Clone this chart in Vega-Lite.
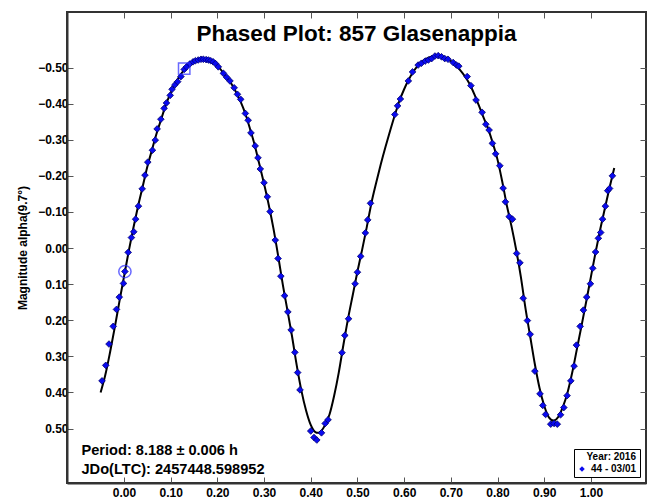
{
  "$schema": "https://vega.github.io/schema/vega-lite/v6.json",
  "autosize": "none",
  "width": 579,
  "height": 471,
  "padding": {"left": 67, "top": 12, "right": 5, "bottom": 19},
  "background": "white",
  "title": {
    "text": "Phased Plot: 857 Glasenappia",
    "font": "Liberation Sans",
    "fontSize": 22.5,
    "fontWeight": "bold",
    "color": "black",
    "anchor": "middle",
    "baseline": "alphabetic",
    "offset": -52
  },
  "config": {
    "view": {"stroke": "#333333", "strokeWidth": 2},
    "font": "Liberation Sans",
    "axis": {
      "labelFont": "Liberation Sans",
      "labelFontSize": 12,
      "labelFontWeight": "bold",
      "labelColor": "black",
      "titleFont": "Liberation Sans",
      "titleFontWeight": "bold",
      "titleColor": "black",
      "domainColor": "#333333",
      "domainWidth": 2,
      "tickColor": "#555555",
      "tickWidth": 1,
      "grid": false
    }
  },
  "datasets": {
    "fit": [
      {"phase": -0.05, "mag": 0.400}, {"phase": -0.04, "mag": 0.352}, {"phase": -0.03, "mag": 0.290},
      {"phase": -0.02, "mag": 0.222}, {"phase": -0.01, "mag": 0.150}, {"phase": 0.00, "mag": 0.080},
      {"phase": 0.01, "mag": 0.010}, {"phase": 0.02, "mag": -0.055}, {"phase": 0.03, "mag": -0.115},
      {"phase": 0.04, "mag": -0.170}, {"phase": 0.05, "mag": -0.225}, {"phase": 0.06, "mag": -0.272},
      {"phase": 0.07, "mag": -0.318}, {"phase": 0.08, "mag": -0.358}, {"phase": 0.09, "mag": -0.398},
      {"phase": 0.10, "mag": -0.430}, {"phase": 0.11, "mag": -0.457}, {"phase": 0.12, "mag": -0.478},
      {"phase": 0.13, "mag": -0.495}, {"phase": 0.14, "mag": -0.508}, {"phase": 0.15, "mag": -0.517},
      {"phase": 0.16, "mag": -0.522}, {"phase": 0.17, "mag": -0.524}, {"phase": 0.18, "mag": -0.523},
      {"phase": 0.19, "mag": -0.517}, {"phase": 0.20, "mag": -0.506}, {"phase": 0.21, "mag": -0.490},
      {"phase": 0.22, "mag": -0.472}, {"phase": 0.23, "mag": -0.455}, {"phase": 0.24, "mag": -0.432},
      {"phase": 0.25, "mag": -0.405}, {"phase": 0.26, "mag": -0.372}, {"phase": 0.27, "mag": -0.330},
      {"phase": 0.28, "mag": -0.285}, {"phase": 0.29, "mag": -0.232}, {"phase": 0.30, "mag": -0.178},
      {"phase": 0.31, "mag": -0.120}, {"phase": 0.32, "mag": -0.055}, {"phase": 0.33, "mag": 0.020},
      {"phase": 0.34, "mag": 0.100}, {"phase": 0.35, "mag": 0.172}, {"phase": 0.36, "mag": 0.245},
      {"phase": 0.37, "mag": 0.325}, {"phase": 0.38, "mag": 0.395}, {"phase": 0.39, "mag": 0.450},
      {"phase": 0.40, "mag": 0.490}, {"phase": 0.41, "mag": 0.510}, {"phase": 0.415, "mag": 0.512},
      {"phase": 0.42, "mag": 0.510}, {"phase": 0.43, "mag": 0.492}, {"phase": 0.44, "mag": 0.462},
      {"phase": 0.45, "mag": 0.410}, {"phase": 0.46, "mag": 0.345}, {"phase": 0.47, "mag": 0.268},
      {"phase": 0.48, "mag": 0.195}, {"phase": 0.49, "mag": 0.130}, {"phase": 0.50, "mag": 0.065},
      {"phase": 0.51, "mag": 0.005}, {"phase": 0.52, "mag": -0.058}, {"phase": 0.53, "mag": -0.125},
      {"phase": 0.54, "mag": -0.180}, {"phase": 0.55, "mag": -0.232}, {"phase": 0.56, "mag": -0.280},
      {"phase": 0.57, "mag": -0.325}, {"phase": 0.58, "mag": -0.368}, {"phase": 0.59, "mag": -0.408},
      {"phase": 0.60, "mag": -0.440}, {"phase": 0.61, "mag": -0.467}, {"phase": 0.62, "mag": -0.489},
      {"phase": 0.63, "mag": -0.506}, {"phase": 0.64, "mag": -0.518}, {"phase": 0.65, "mag": -0.526},
      {"phase": 0.66, "mag": -0.531}, {"phase": 0.67, "mag": -0.533}, {"phase": 0.68, "mag": -0.531},
      {"phase": 0.69, "mag": -0.526}, {"phase": 0.70, "mag": -0.518}, {"phase": 0.71, "mag": -0.507},
      {"phase": 0.72, "mag": -0.493}, {"phase": 0.73, "mag": -0.476}, {"phase": 0.74, "mag": -0.455},
      {"phase": 0.75, "mag": -0.427}, {"phase": 0.76, "mag": -0.395}, {"phase": 0.77, "mag": -0.362},
      {"phase": 0.78, "mag": -0.330}, {"phase": 0.79, "mag": -0.290}, {"phase": 0.80, "mag": -0.245},
      {"phase": 0.81, "mag": -0.185}, {"phase": 0.82, "mag": -0.118}, {"phase": 0.83, "mag": -0.060},
      {"phase": 0.84, "mag": 0.005}, {"phase": 0.85, "mag": 0.080}, {"phase": 0.86, "mag": 0.168},
      {"phase": 0.87, "mag": 0.245}, {"phase": 0.88, "mag": 0.322}, {"phase": 0.89, "mag": 0.388},
      {"phase": 0.90, "mag": 0.437}, {"phase": 0.91, "mag": 0.469}, {"phase": 0.92, "mag": 0.478},
      {"phase": 0.93, "mag": 0.468}, {"phase": 0.94, "mag": 0.440}, {"phase": 0.95, "mag": 0.400},
      {"phase": 0.96, "mag": 0.345}, {"phase": 0.97, "mag": 0.280}, {"phase": 0.98, "mag": 0.215},
      {"phase": 0.99, "mag": 0.148}, {"phase": 1.00, "mag": 0.080}, {"phase": 1.01, "mag": 0.012},
      {"phase": 1.02, "mag": -0.052}, {"phase": 1.03, "mag": -0.110}, {"phase": 1.04, "mag": -0.168},
      {"phase": 1.05, "mag": -0.222}
    ],
    "obs": [
      {"phase": -0.047, "mag": 0.368}, {"phase": -0.039, "mag": 0.325}, {"phase": -0.032, "mag": 0.266},
      {"phase": -0.023, "mag": 0.217}, {"phase": -0.016, "mag": 0.170}, {"phase": -0.010, "mag": 0.136},
      {"phase": -0.001, "mag": 0.098}, {"phase": 0.002, "mag": 0.065}, {"phase": 0.009, "mag": 0.012},
      {"phase": 0.016, "mag": -0.029}, {"phase": 0.021, "mag": -0.045}, {"phase": 0.025, "mag": -0.080},
      {"phase": 0.031, "mag": -0.116}, {"phase": 0.039, "mag": -0.164}, {"phase": 0.045, "mag": -0.202},
      {"phase": 0.051, "mag": -0.238}, {"phase": 0.061, "mag": -0.271}, {"phase": 0.067, "mag": -0.299},
      {"phase": 0.071, "mag": -0.330}, {"phase": 0.079, "mag": -0.357}, {"phase": 0.086, "mag": -0.387},
      {"phase": 0.091, "mag": -0.402}, {"phase": 0.099, "mag": -0.423}, {"phase": 0.103, "mag": -0.440},
      {"phase": 0.109, "mag": -0.452}, {"phase": 0.115, "mag": -0.461}, {"phase": 0.122, "mag": -0.475},
      {"phase": 0.129, "mag": -0.495}, {"phase": 0.134, "mag": -0.502}, {"phase": 0.141, "mag": -0.510},
      {"phase": 0.148, "mag": -0.516}, {"phase": 0.153, "mag": -0.519}, {"phase": 0.159, "mag": -0.521},
      {"phase": 0.165, "mag": -0.523}, {"phase": 0.170, "mag": -0.523}, {"phase": 0.176, "mag": -0.522},
      {"phase": 0.181, "mag": -0.521}, {"phase": 0.186, "mag": -0.519}, {"phase": 0.191, "mag": -0.516},
      {"phase": 0.196, "mag": -0.511}, {"phase": 0.202, "mag": -0.502}, {"phase": 0.213, "mag": -0.484},
      {"phase": 0.220, "mag": -0.473}, {"phase": 0.227, "mag": -0.463}, {"phase": 0.236, "mag": -0.444},
      {"phase": 0.243, "mag": -0.426}, {"phase": 0.250, "mag": -0.412}, {"phase": 0.260, "mag": -0.373},
      {"phase": 0.266, "mag": -0.354}, {"phase": 0.272, "mag": -0.319}, {"phase": 0.281, "mag": -0.283},
      {"phase": 0.287, "mag": -0.250}, {"phase": 0.292, "mag": -0.219}, {"phase": 0.300, "mag": -0.181},
      {"phase": 0.307, "mag": -0.142}, {"phase": 0.313, "mag": -0.101}, {"phase": 0.324, "mag": -0.022},
      {"phase": 0.330, "mag": 0.029}, {"phase": 0.336, "mag": 0.078}, {"phase": 0.344, "mag": 0.132},
      {"phase": 0.351, "mag": 0.177}, {"phase": 0.358, "mag": 0.227}, {"phase": 0.366, "mag": 0.289},
      {"phase": 0.372, "mag": 0.345}, {"phase": 0.377, "mag": 0.393}, {"phase": 0.400, "mag": 0.507},
      {"phase": 0.407, "mag": 0.525}, {"phase": 0.413, "mag": 0.532}, {"phase": 0.423, "mag": 0.512},
      {"phase": 0.431, "mag": 0.486}, {"phase": 0.437, "mag": 0.476}, {"phase": 0.467, "mag": 0.290},
      {"phase": 0.473, "mag": 0.242}, {"phase": 0.481, "mag": 0.196}, {"phase": 0.495, "mag": 0.099},
      {"phase": 0.500, "mag": 0.067}, {"phase": 0.507, "mag": 0.023}, {"phase": 0.517, "mag": -0.042},
      {"phase": 0.522, "mag": -0.078}, {"phase": 0.528, "mag": -0.124}, {"phase": 0.580, "mag": -0.370},
      {"phase": 0.586, "mag": -0.394}, {"phase": 0.592, "mag": -0.413}, {"phase": 0.609, "mag": -0.463},
      {"phase": 0.618, "mag": -0.488}, {"phase": 0.630, "mag": -0.507}, {"phase": 0.637, "mag": -0.512},
      {"phase": 0.645, "mag": -0.518}, {"phase": 0.652, "mag": -0.521}, {"phase": 0.659, "mag": -0.525},
      {"phase": 0.666, "mag": -0.532}, {"phase": 0.673, "mag": -0.533}, {"phase": 0.680, "mag": -0.530},
      {"phase": 0.687, "mag": -0.525}, {"phase": 0.694, "mag": -0.523}, {"phase": 0.705, "mag": -0.514},
      {"phase": 0.712, "mag": -0.507}, {"phase": 0.717, "mag": -0.504}, {"phase": 0.735, "mag": -0.475},
      {"phase": 0.743, "mag": -0.450}, {"phase": 0.754, "mag": -0.410}, {"phase": 0.767, "mag": -0.376},
      {"phase": 0.775, "mag": -0.343}, {"phase": 0.782, "mag": -0.327}, {"phase": 0.789, "mag": -0.290},
      {"phase": 0.796, "mag": -0.261}, {"phase": 0.805, "mag": -0.228}, {"phase": 0.812, "mag": -0.166},
      {"phase": 0.817, "mag": -0.128}, {"phase": 0.825, "mag": -0.087}, {"phase": 0.832, "mag": -0.080},
      {"phase": 0.841, "mag": 0.015}, {"phase": 0.848, "mag": 0.041}, {"phase": 0.855, "mag": 0.139},
      {"phase": 0.864, "mag": 0.201}, {"phase": 0.870, "mag": 0.239}, {"phase": 0.880, "mag": 0.341},
      {"phase": 0.891, "mag": 0.404}, {"phase": 0.897, "mag": 0.436}, {"phase": 0.903, "mag": 0.461},
      {"phase": 0.914, "mag": 0.488}, {"phase": 0.921, "mag": 0.486}, {"phase": 0.928, "mag": 0.488},
      {"phase": 0.935, "mag": 0.462}, {"phase": 0.942, "mag": 0.442}, {"phase": 0.949, "mag": 0.409},
      {"phase": 0.957, "mag": 0.368}, {"phase": 0.964, "mag": 0.327}, {"phase": 0.969, "mag": 0.269},
      {"phase": 0.977, "mag": 0.217}, {"phase": 0.984, "mag": 0.172}, {"phase": 0.991, "mag": 0.136},
      {"phase": 0.999, "mag": 0.099}, {"phase": 1.004, "mag": 0.056}, {"phase": 1.010, "mag": 0.011},
      {"phase": 1.016, "mag": -0.027}, {"phase": 1.021, "mag": -0.043}, {"phase": 1.025, "mag": -0.080},
      {"phase": 1.031, "mag": -0.116}, {"phase": 1.036, "mag": -0.159}, {"phase": 1.040, "mag": -0.165},
      {"phase": 1.046, "mag": -0.200}
    ],
    "epochs": [
      {"phase": 0.002, "mag": 0.065, "kind": "first"},
      {"phase": 0.129, "mag": -0.497, "kind": "last"}
    ],
    "notes": [
      {"phase": -0.091, "mag": 0.573, "text": "Period: 8.188 ± 0.006 h"},
      {"phase": -0.091, "mag": 0.626, "text": "JDo(LTC): 2457448.598952"}
    ]
  },
  "encoding": {
    "x": {
      "field": "phase",
      "type": "quantitative",
      "scale": {"domain": [-0.122, 1.118], "nice": false, "zero": false}
    },
    "y": {
      "field": "mag",
      "type": "quantitative",
      "scale": {"domain": [-0.654, 0.651], "nice": false, "zero": false, "reverse": true}
    }
  },
  "layer": [
    {
      "data": {"name": "fit"},
      "mark": {"type": "line", "color": "black", "strokeWidth": 2, "interpolate": "monotone"},
      "encoding": {
        "x": {
          "field": "phase",
          "type": "quantitative",
          "axis": {
            "orient": "bottom",
            "values": [0, 0.1, 0.2, 0.3, 0.4, 0.5, 0.6, 0.7, 0.8, 0.9, 1.0],
            "format": ".2f",
            "title": null,
            "tickSize": -6,
            "labelPadding": 10
          }
        },
        "y": {
          "field": "mag",
          "type": "quantitative",
          "axis": {
            "orient": "left",
            "values": [-0.5, -0.4, -0.3, -0.2, -0.1, 0, 0.1, 0.2, 0.3, 0.4, 0.5],
            "format": ".2f",
            "title": "Magnitude alpha(9.7°)",
            "titleFontSize": 12,
            "titlePadding": 8,
            "tickSize": -6,
            "labelPadding": 5
          }
        }
      }
    },
    {
      "data": {"name": "obs"},
      "mark": {"type": "point", "shape": "diamond", "filled": true, "size": 44, "opacity": 1, "stroke": "#000070", "strokeWidth": 0.8},
      "encoding": {
        "x": {
          "field": "phase",
          "type": "quantitative",
          "axis": {
            "orient": "top",
            "values": [0, 0.1, 0.2, 0.3, 0.4, 0.5, 0.6, 0.7, 0.8, 0.9, 1.0],
            "labels": false,
            "domain": false,
            "title": null,
            "tickSize": -6
          }
        },
        "y": {
          "field": "mag",
          "type": "quantitative",
          "axis": {
            "orient": "right",
            "values": [-0.5, -0.4, -0.3, -0.2, -0.1, 0, 0.1, 0.2, 0.3, 0.4, 0.5],
            "labels": false,
            "domain": false,
            "title": null,
            "tickSize": -6
          }
        },
        "color": {
          "datum": "44 - 03/01",
          "type": "nominal",
          "scale": {"range": ["#0a0af0"]},
          "legend": {
            "title": "Year: 2016",
            "orient": "bottom-right",
            "offset": 6,
            "padding": 3,
            "strokeColor": "black",
            "fillColor": "white",
            "titleFont": "Liberation Sans",
            "titleFontSize": 10,
            "titleFontWeight": "bold",
            "titleColor": "black",
            "titleAnchor": "end",
            "titlePadding": 2,
            "labelFont": "Liberation Sans",
            "labelFontSize": 10,
            "labelFontWeight": "bold",
            "labelColor": "black",
            "symbolType": "diamond",
            "symbolSize": 30,
            "symbolStrokeWidth": 0
          }
        }
      }
    },
    {
      "data": {"name": "epochs"},
      "mark": {"type": "point", "filled": false, "strokeWidth": 1.5, "color": "#2a2aff"},
      "encoding": {
        "x": {"field": "phase", "type": "quantitative", "axis": null},
        "y": {"field": "mag", "type": "quantitative", "axis": null},
        "shape": {
          "field": "kind",
          "type": "nominal",
          "scale": {"domain": ["first", "last"], "range": ["circle", "square"]},
          "legend": null
        },
        "size": {
          "field": "kind",
          "type": "nominal",
          "scale": {"domain": ["first", "last"], "range": [150, 130]},
          "legend": null
        }
      }
    },
    {
      "data": {"name": "notes"},
      "mark": {"type": "text", "align": "left", "baseline": "alphabetic", "font": "Liberation Sans", "fontSize": 14.6, "fontWeight": "bold", "color": "black"},
      "encoding": {
        "x": {"field": "phase", "type": "quantitative", "axis": null},
        "y": {"field": "mag", "type": "quantitative", "axis": null},
        "text": {"field": "text", "type": "nominal"}
      }
    }
  ],
  "resolve": {"axis": {"x": "independent", "y": "independent"}}
}
